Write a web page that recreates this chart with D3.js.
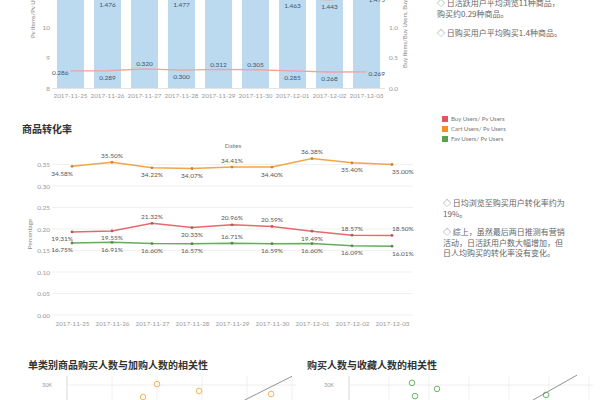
<!DOCTYPE html>
<html><head><meta charset="utf-8">
<script src="https://cdn.jsdelivr.net/npm/d3@7"></script>
<style>body{margin:0;background:#fff}svg{display:block}</style>
</head><body><svg id="c" width="600" height="400"></svg>
<script>
// ---------- data ----------
const dates = ["2017-11-25","2017-11-26","2017-11-27","2017-11-28","2017-11-29","2017-11-30","2017-12-01","2017-12-02","2017-12-03"];
// top chart (bars cropped at the top of the picture)
const pvItemsPerPvUser   = [11.5, 11.6, 11.4, 11.5, 11.6, 11.6, 11.3, 11.2, 11.2];
const buyItemsPerBuyUser = [1.52, 1.476, 1.50, 1.477, 1.49, 1.49, 1.463, 1.443, 1.475];
const buyItemsPerPvUser  = [0.286, 0.289, 0.320, 0.300, 0.312, 0.305, 0.285, 0.268, 0.269];
const leftTicks  = [8, 9, 10];
const rightTicks = [0, 0.5, 1.0];
// conversion rates
const buyRate  = [0.1931, 0.1955, 0.2132, 0.2033, 0.2096, 0.2059, 0.1949, 0.1857, 0.1850];
const cartRate = [0.3458, 0.3550, 0.3422, 0.3407, 0.3441, 0.3440, 0.3638, 0.3540, 0.3500];
const favRate  = [0.1675, 0.1691, 0.1660, 0.1657, 0.1671, 0.1659, 0.1660, 0.1609, 0.1601];
const rateTicks = [0, 0.05, 0.10, 0.15, 0.20, 0.25, 0.30, 0.35];
const seriesNames = ["Buy Users/ Pv Users", "Cart Users/ Pv Users", "Fav Users/ Pv Users"];
// scatter plots (only the top of them is visible)
const cartUsers = [40000, 33800, 58700, 90700];
const buyUsersA = [30300, 26000, 28000, 27000];
const favUsers  = [15750, 16500, 22000, 49250];
const buyUsersB = [30700, 26300, 28700, 26700];
const trendAX = [79000, 100000], trendAY = [25000, 32900];
const trendBX = [46000, 57000],  trendBY = [25000, 33300];
const scatterTicks = [30000];

// ---------- layout / style ----------
const LAT = "Lato, 'Noto Sans', sans-serif";
const CJK = "'Noto Sans CJK SC', sans-serif";
const topUpperSides = ["mid","below","above","below","above","above","below","below","mid"];
const topLowerSides = ["mid","below","above","below","above","above","below","below","mid"];
const cartSides = ["below","above","below","below","above","below","above","below","below"];
const buySides  = ["below","below","above","below","above","above","below","above","above"];
const favSides  = ["below","below","below","below","above","below","below","below","below"];

const svg = d3.select("#c");

function txt(g, x, y, s, o) {
  o = o || {};
  return g.append("text").attr("x", x).attr("y", y).text(s)
    .attr("font-family", o.f || LAT).attr("font-size", o.s || 6.5)
    .attr("fill", o.c || "#888").attr("text-anchor", o.a || "start")
    .attr("font-weight", o.w || "normal");
}

// ======== TOP CHART ========
const gTop = svg.append("g");
const xBand = d3.scaleBand().domain(dates).range([52, 385]).paddingInner(0.27).paddingOuter(0.135);
const yL = d3.scaleLinear().domain([8, 10]).range([88.5, 27]);
const yR = d3.scaleLinear().domain([0, 1]).range([88.5, 27]);

gTop.selectAll("rect.bar").data(pvItemsPerPvUser).join("rect")
  .attr("x", (d, i) => xBand(dates[i])).attr("width", xBand.bandwidth())
  .attr("y", d => yL(d)).attr("height", d => yL(8) - yL(d))
  .attr("fill", "#bbdaf0");

gTop.append("line").attr("x1", 52).attr("x2", 385).attr("y1", 88.5).attr("y2", 88.5)
  .attr("stroke", "#e4e4e4").attr("stroke-width", 1);

const axL = gTop.append("g").attr("transform", "translate(53,0)")
  .call(d3.axisLeft(yL).tickValues(leftTicks).tickSize(0).tickPadding(3).tickFormat(d3.format("d")));
const axR = gTop.append("g").attr("transform", "translate(386,0)")
  .call(d3.axisRight(yR).tickValues(rightTicks).tickSize(0).tickPadding(3).tickFormat(d3.format(".1f")));
[axL, axR].forEach(a => {
  a.select(".domain").remove();
  a.selectAll("text").attr("font-family", LAT).attr("font-size", 6.5).attr("fill", "#999");
});
const axXT = gTop.append("g").attr("transform", "translate(0,89)")
  .call(d3.axisBottom(xBand).tickSize(0).tickPadding(5));
axXT.select(".domain").remove();
axXT.selectAll("text").attr("font-family", LAT).attr("font-size", 6.3).attr("fill", "#999");

txt(gTop, 0, 0, "Pv Items/Pv Users", {s: 6, c: "#888"}).attr("transform", "translate(35,38) rotate(-90)");
txt(gTop, 0, 0, "Buy Items/Buy Users, Buy Items/Pv Users", {s: 6, c: "#888"}).attr("transform", "translate(407,68) rotate(-90)");

const cx = d => xBand(d) + xBand.bandwidth() / 2;
const lineTop = d3.line().x((d, i) => cx(dates[i])).y(d => yR(d));
[buyItemsPerBuyUser, buyItemsPerPvUser].forEach((arr, k) => {
  gTop.append("path").attr("d", lineTop(arr)).attr("fill", "none")
    .attr("stroke", "#f2a19b").attr("stroke-width", 1.3);
  const sides = k === 0 ? topUpperSides : topLowerSides;
  arr.forEach((v, i) => {
    const s = sides[i];
    let x = cx(dates[i]), y = yR(v), a = "middle";
    if (s === "mid") { a = i === 0 ? "end" : "start"; x += i === 0 ? -2 : 2; y += 4.5; }
    else if (s === "below") y += 9;
    else y -= 2.5;
    txt(gTop, x, y, d3.format(".3f")(v), {s: 6.5, c: "#3d5670", a: a});
  });
});

// top-right notes
const noteStyle = {f: CJK, s: 8, c: "#666"};
txt(svg, 437, 5.5, "◇ 日活跃用户平均浏览11种商品，", noteStyle);
txt(svg, 437, 16.5, "购买约0.29种商品。", noteStyle);
txt(svg, 437, 35.5, "◇ 日购买用户平均购买1.4种商品。", noteStyle);

// ======== MIDDLE CHART ========
const gMid = svg.append("g");
txt(gMid, 22, 133, "商品转化率", {f: CJK, s: 10, c: "#333", w: "bold"});
txt(gMid, 233, 148, "Dates", {s: 6.5, c: "#777", a: "middle"});

const xP = d3.scalePoint().domain(dates).range([72, 392]);
const yP = d3.scaleLinear().domain([0, 0.35]).range([315, 164.5]);

gMid.selectAll("line.grid").data(rateTicks).join("line")
  .attr("x1", 52).attr("x2", 413).attr("y1", d => yP(d)).attr("y2", d => yP(d))
  .attr("stroke", "#f0f0f0").attr("stroke-width", 1);

const axY = gMid.append("g").attr("transform", "translate(53,0)")
  .call(d3.axisLeft(yP).tickValues(rateTicks).tickSize(0).tickPadding(3).tickFormat(d3.format(".2f")));
axY.select(".domain").remove();
axY.selectAll("text").attr("font-family", LAT).attr("font-size", 6.5).attr("fill", "#999");
const axX = gMid.append("g").attr("transform", "translate(0,316)")
  .call(d3.axisBottom(xP).tickSize(0).tickPadding(6));
axX.select(".domain").remove();
axX.selectAll("text").attr("font-family", LAT).attr("font-size", 6.3).attr("fill", "#999");
txt(gMid, 0, 0, "Percentage", {s: 6.2, c: "#888", a: "middle"}).attr("transform", "translate(32,234) rotate(-90)");

const colors = ["#e15759", "#f28e2b", "#59a14f"];
const lineColors = ["#e46a6c", "#f4a547", "#65ad5a"];
const lineMid = d3.line().x((d, i) => xP(dates[i])).y(d => yP(d));
const series = [[buyRate, buySides, 0], [cartRate, cartSides, 1], [favRate, favSides, 2]];
series.forEach(([arr, sides, k]) => {
  gMid.append("path").attr("d", lineMid(arr)).attr("fill", "none")
    .attr("stroke", lineColors[k]).attr("stroke-width", 1.5);
  gMid.selectAll(null).data(arr).join("circle")
    .attr("cx", (d, i) => xP(dates[i])).attr("cy", d => yP(d)).attr("r", 1.4)
    .attr("fill", d3.color(lineColors[k]).darker(0.6));
  arr.forEach((v, i) => {
    let x = xP(dates[i]), y = yP(v), a = "middle";
    if (i === 0) { a = "end"; x += 1; }
    if (i === arr.length - 1) { a = "start"; }
    y += sides[i] === "below" ? 9.5 : -4.5;
    txt(gMid, x, y, d3.format(".2%")(v), {s: 6.5, c: "#555", a: a});
  });
});

// legend
seriesNames.forEach((n, i) => {
  const y = 119 + i * 10;
  gMid.append("rect").attr("x", 442).attr("y", y - 3).attr("width", 6).attr("height", 6).attr("fill", colors[i]);
  txt(gMid, 451, y + 2.2, n, {s: 6, c: "#777"});
});

// middle notes
txt(svg, 443, 205.5, "◇ 日均浏览至购买用户转化率约为", noteStyle);
txt(svg, 443, 216.5, "19%。", noteStyle);
txt(svg, 443, 235, "◇ 综上，虽然最后两日推测有营销", noteStyle);
txt(svg, 443, 245.5, "活动，日活跃用户数大幅增加，但", noteStyle);
txt(svg, 443, 256, "日人均购买的转化率没有变化。", noteStyle);

// ======== BOTTOM SCATTERS ========
const yS = d3.scaleLinear().domain([25000, 30000]).range([400, 385]);
function scatter(title, tx, xs, ys, xScale, xTicks, trX, trY, color) {
  const g = svg.append("g");
  txt(g, tx, 369, title, {f: CJK, s: 10, c: "#333", w: "bold"});
  const [x0, x1] = xScale.range();
  g.selectAll(null).data(xTicks).join("line")
    .attr("x1", d => xScale(d)).attr("x2", d => xScale(d)).attr("y1", 376).attr("y2", 400)
    .attr("stroke", "#f0f0f0");
  g.append("line").attr("x1", x0).attr("x2", x0).attr("y1", 376).attr("y2", 400).attr("stroke", "#d8d8d8");
  g.selectAll(null).data(scatterTicks).join("line")
    .attr("x1", x0).attr("x2", x1 + 4).attr("y1", d => yS(d)).attr("y2", d => yS(d)).attr("stroke", "#eeeeee");
  const ax = g.append("g").attr("transform", `translate(${x0 - 2},0)`)
    .call(d3.axisLeft(yS).tickValues(scatterTicks).tickSize(0).tickPadding(13).tickFormat(d => d / 1000 + "K"));
  ax.select(".domain").remove();
  ax.selectAll("text").attr("font-family", LAT).attr("font-size", 5.5).attr("fill", "#999");
  g.selectAll(null).data(xs).join("circle")
    .attr("cx", d => xScale(d)).attr("cy", (d, i) => yS(ys[i])).attr("r", 2.8)
    .attr("fill", "none").attr("stroke", color).attr("stroke-width", 1);
  g.append("line").attr("x1", xScale(trX[0])).attr("y1", yS(trY[0]))
    .attr("x2", xScale(trX[1])).attr("y2", yS(trY[1])).attr("stroke", "#777").attr("stroke-width", 0.8);
}
const xA = d3.scaleLinear().domain([0, 100000]).range([67, 292]);
const xB = d3.scaleLinear().domain([0, 60000]).range([349, 589]);
scatter("单类别商品购买人数与加购人数的相关性", 28, cartUsers, buyUsersA, xA, d3.range(20000, 100001, 20000), trendAX, trendAY, "#f5b35a");
scatter("购买人数与收藏人数的相关性", 307, favUsers, buyUsersB, xB, d3.range(10000, 60001, 10000), trendBX, trendBY, "#6fb566");
</script></body></html>
